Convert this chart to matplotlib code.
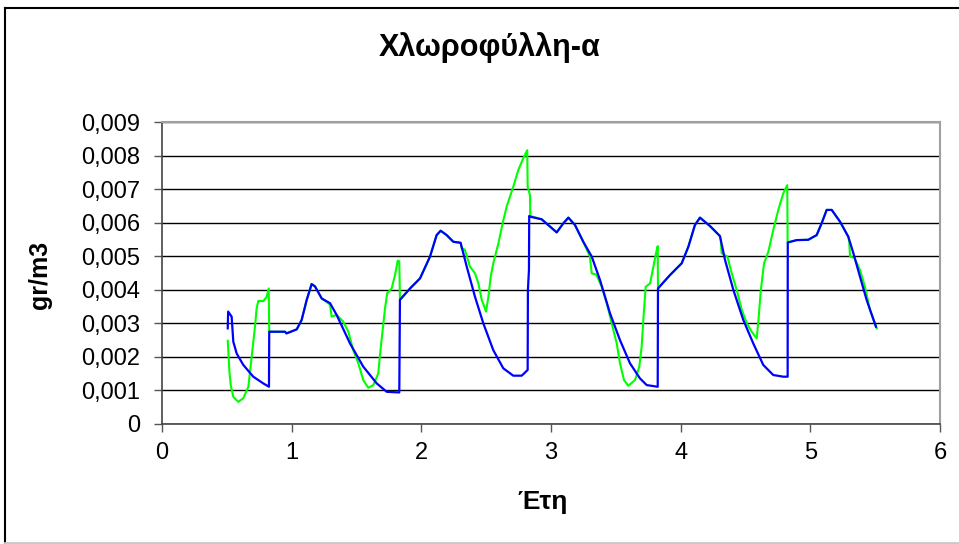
import matplotlib
matplotlib.use('Agg')
import matplotlib.pyplot as plt
from matplotlib.lines import Line2D
from matplotlib.ticker import FuncFormatter

# --- data (years, gr/m3) ---
blue_x = [0.507, 0.51, 0.537, 0.55, 0.576, 0.627, 0.704, 0.781, 0.825, 0.827,
          0.949, 0.96, 1.039, 1.077, 1.116, 1.154, 1.18, 1.232, 1.296, 1.347,
          1.45, 1.552, 1.656, 1.733, 1.83, 1.835, 1.913, 1.99, 2.067, 2.118,
          2.149, 2.195, 2.247, 2.303, 2.35, 2.414, 2.478, 2.555, 2.632, 2.709,
          2.774, 2.82, 2.822, 2.83, 2.832, 2.838, 2.928, 3.044, 3.095, 3.134,
          3.185, 3.249, 3.314, 3.378, 3.455, 3.532, 3.609, 3.686, 3.738, 3.823,
          3.825, 3.918, 4.008, 4.059, 4.11, 4.149, 4.226, 4.303, 4.342, 4.406,
          4.483, 4.56, 4.637, 4.714, 4.791, 4.825, 4.826, 4.894, 4.984, 5.049,
          5.087, 5.126, 5.165, 5.229, 5.293, 5.332, 5.383, 5.434, 5.506]
blue_y = [0.00285, 0.00335, 0.0032, 0.00245, 0.0021, 0.00176, 0.00141, 0.00121, 0.00111, 0.00275,
          0.00275, 0.0027, 0.00282, 0.0031, 0.0037, 0.00417, 0.0041, 0.00374, 0.0036, 0.00325,
          0.0024, 0.00171, 0.00121, 0.00096, 0.00094, 0.0037, 0.00404, 0.00434, 0.00499, 0.00563,
          0.00576, 0.00563, 0.00543, 0.0054, 0.00469, 0.00379, 0.003, 0.0022, 0.00166, 0.00144,
          0.00144, 0.00161, 0.004, 0.00459, 0.0062, 0.00618, 0.0061, 0.00571, 0.00598, 0.00615,
          0.00593, 0.00543, 0.00499, 0.00429, 0.0033, 0.0025, 0.00181, 0.00136, 0.00116, 0.00111,
          0.00404, 0.00444, 0.00479, 0.00528, 0.00593, 0.00615, 0.0059, 0.0056, 0.00489, 0.004,
          0.0031, 0.0024, 0.00176, 0.00146, 0.00141, 0.00141, 0.00541, 0.00548, 0.00549, 0.00563,
          0.00598, 0.00638, 0.00638, 0.00603, 0.00558, 0.00509, 0.00439, 0.0037, 0.0029]

green_x = [0.507, 0.52, 0.53, 0.55, 0.588, 0.627, 0.666, 0.691, 0.717, 0.73,
           0.743, 0.781, 0.807, 0.823, 0.827, 0.949, 0.96, 1.039, 1.077, 1.116,
           1.154, 1.18, 1.232, 1.296, 1.308, 1.347, 1.398, 1.437, 1.475, 1.514,
           1.552, 1.591, 1.63, 1.668, 1.681, 1.707, 1.72, 1.737, 1.771, 1.797,
           1.818, 1.83, 1.835, 1.913, 1.99, 2.067, 2.118, 2.149, 2.195, 2.247,
           2.303, 2.311, 2.335, 2.375, 2.414, 2.44, 2.466, 2.499, 2.517, 2.535,
           2.555, 2.594, 2.627, 2.658, 2.709, 2.748, 2.786, 2.817, 2.82, 2.838,
           2.84, 2.928, 3.044, 3.095, 3.134, 3.185, 3.249, 3.30, 3.314, 3.35,
           3.391, 3.43, 3.468, 3.507, 3.532, 3.563, 3.596, 3.648, 3.681, 3.699,
           3.712, 3.73, 3.764, 3.79, 3.81, 3.823, 3.825, 3.918, 4.008, 4.059,
           4.11, 4.149, 4.226, 4.303, 4.309, 4.316, 4.36, 4.394, 4.432, 4.471,
           4.51, 4.548, 4.586, 4.6, 4.617, 4.643, 4.676, 4.714, 4.753, 4.791,
           4.822, 4.825, 4.894, 4.984, 5.049, 5.087, 5.126, 5.165, 5.229, 5.293,
           5.30, 5.306, 5.34, 5.383, 5.421, 5.46, 5.512]
green_y = [0.00248, 0.00156, 0.00116, 0.00081, 0.00066, 0.00077, 0.00111, 0.002, 0.0029, 0.00345,
           0.00367, 0.00366, 0.00379, 0.00404, 0.00275, 0.00275, 0.0027, 0.00282, 0.0031, 0.0037,
           0.00417, 0.0041, 0.00374, 0.00356, 0.0032, 0.00325, 0.00305, 0.00275, 0.0022, 0.00181,
           0.00131, 0.00108, 0.00116, 0.00151, 0.00206, 0.003, 0.00345, 0.0039, 0.00404, 0.00444,
           0.00487, 0.00485, 0.0037, 0.00404, 0.00434, 0.00499, 0.00563, 0.00576, 0.00563, 0.00543,
           0.0054, 0.00523, 0.0052, 0.00469, 0.00449, 0.00419, 0.0037, 0.00335, 0.00379, 0.00439,
           0.00479, 0.00538, 0.00598, 0.00648, 0.00707, 0.00757, 0.00792, 0.00816, 0.00707, 0.00682,
           0.0062, 0.0061, 0.00571, 0.00598, 0.00615, 0.00593, 0.00543, 0.00499, 0.00449, 0.00445,
           0.00409, 0.0036, 0.003, 0.0024, 0.00181, 0.00131, 0.00114, 0.00131, 0.00171, 0.0023,
           0.0031, 0.00409, 0.00419, 0.00469, 0.00509, 0.0053, 0.00404, 0.00444, 0.00479, 0.00528,
           0.00593, 0.00615, 0.0059, 0.0056, 0.00548, 0.00509, 0.00499, 0.00449, 0.004, 0.0034,
           0.003, 0.00275, 0.00255, 0.0031, 0.00394, 0.00479, 0.00513, 0.00578, 0.00638, 0.00687,
           0.00712, 0.00541, 0.00548, 0.00549, 0.00563, 0.00598, 0.00638, 0.00638, 0.00603, 0.00558,
           0.00543, 0.00499, 0.00495, 0.00459, 0.00409, 0.0034, 0.00285]

x_ticks = [0, 1, 2, 3, 4, 5, 6]
y_ticks = [0, 0.001, 0.002, 0.003, 0.004, 0.005, 0.006, 0.007, 0.008, 0.009]

TITLE = 'Χλωροφύλλη-α'
X_LABEL = 'Έτη'
Y_LABEL = 'gr/m3'

plt.rcParams['font.family'] = ['Liberation Sans', 'DejaVu Sans']

fig = plt.figure(figsize=(9.59, 5.44), dpi=100)
ax = fig.add_axes([162 / 959, 1 - 424 / 544, 778 / 959, 302 / 544])

# green first, blue drawn on top
ax.plot(green_x, green_y, color='#00ff00', lw=1.5, zorder=3)
ax.plot(blue_x, blue_y, color='#0000ff', lw=1.6, zorder=4)

ax.set_xlim(0, 6)
ax.set_ylim(0, 0.009)
ax.set_xticks(x_ticks)
ax.set_yticks(y_ticks)


def comma_fmt(v, pos):
    if v == 0:
        return '0'
    return f'{v:.3f}'.replace('.', ',')


ax.yaxis.set_major_formatter(FuncFormatter(comma_fmt))
ax.xaxis.set_major_formatter(FuncFormatter(lambda v, p: f'{int(v)}'))
ax.tick_params(axis='both', direction='out', length=6, width=1, color='#555555',
               labelsize=17, labelcolor='black')
ax.tick_params(axis='x', pad=7)
ax.tick_params(axis='y', pad=10)

ax.yaxis.grid(True, color='black', lw=1)
ax.set_axisbelow(True)

for side in ['top', 'right']:
    ax.spines[side].set_color('#a0a0a0')
    ax.spines[side].set_linewidth(1.5)
for side in ['left', 'bottom']:
    ax.spines[side].set_color('#444444')
    ax.spines[side].set_linewidth(1.2)

fig.text(490 / 959, 1 - 48 / 544, TITLE, ha='center', va='center',
         fontsize=22, fontweight='bold')
fig.text(543 / 959, 1 - 502 / 544, X_LABEL, ha='center', va='center',
         fontsize=19, fontweight='bold')
fig.text(40 / 959, 1 - 275 / 544, Y_LABEL, ha='center', va='center',
         fontsize=18, fontweight='bold', rotation=90)

# chart area border
fig.add_artist(Line2D([5 / 959, 5 / 959], [1 / 544, 1 - 8 / 544], color='black', lw=1.5,
                      transform=fig.transFigure))
fig.add_artist(Line2D([5 / 959, 1.0], [1 - 8 / 544, 1 - 8 / 544], color='black', lw=1.5,
                      transform=fig.transFigure))
fig.add_artist(Line2D([5 / 959, 1.0], [1.5 / 544, 1.5 / 544], color='#c8c8c8', lw=2,
                      transform=fig.transFigure))

fig.savefig('out.png', dpi=100)
